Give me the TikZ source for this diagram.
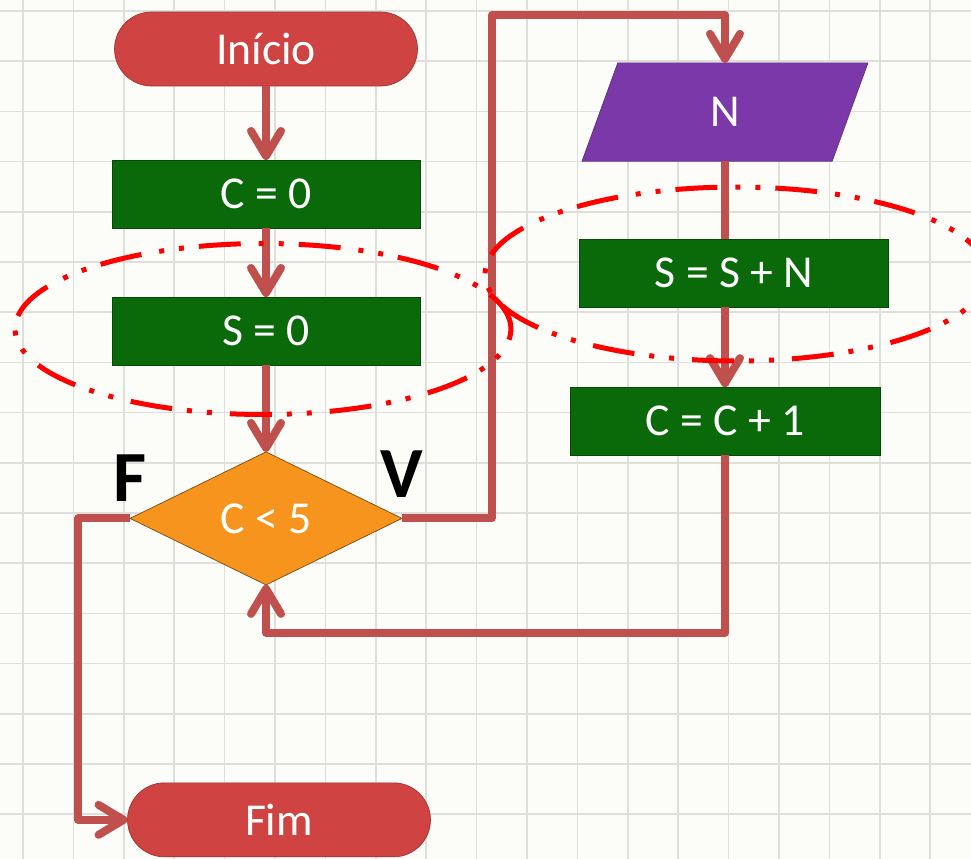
\documentclass[tikz,border=0pt]{standalone}
\usepackage{fontspec}
\setmainfont{Carlito}
\usetikzlibrary{arrows.meta,positioning,shapes.geometric}
\definecolor{linkred}{HTML}{C0504D}
\definecolor{termred}{HTML}{CF4442}
\definecolor{procgreen}{HTML}{0A6A0A}
\definecolor{entpurple}{HTML}{7A38A8}
\definecolor{decorange}{HTML}{F7941E}
\definecolor{elipred}{HTML}{FF0000}
\definecolor{fundo}{HTML}{FCFCF9}
\definecolor{gradecolor}{HTML}{DEDEDA}
\tikzset{
  blk/.style={rectangle,minimum width=6.16cm,minimum height=1.36cm,inner sep=0pt,outer sep=0pt,align=center,text=white,font=\fontsize{26}{30}\selectfont},
  termblk/.style={blk,rounded corners=0.74cm,minimum width=6.06cm,minimum height=1.48cm,fill=termred,draw=termred!75!black},
  procblk/.style={blk,fill=procgreen,draw=procgreen!70!black},
  entblk/.style={blk,trapezium,trapezium left angle=70,trapezium right angle=110,trapezium stretches body=true,minimum height=0pt,inner ysep=0.69cm,minimum width=5.72cm,fill=entpurple,draw=entpurple!80!black},
  decblk/.style={blk,diamond,minimum width=5.44cm,minimum height=2.66cm,fill=decorange,draw=decorange!50!black},
  arr/.style={-{Straight Barb[length=0.5cm,width=0.6cm,round]},line width=0.16cm,draw=linkred,line join=round},
  lnk/.style={line width=0.16cm,draw=linkred},
  grupo/.style={ellipse,draw=elipred,line width=0.1cm,dash pattern=on 0.84cm off 0.3cm on 0.1cm off 0.3cm on 0.1cm off 0.36cm,inner sep=0pt,outer sep=0pt},
  lbl/.style={font=\fontsize{41}{45}\selectfont\bfseries,inner sep=0pt},
  grade/.style={draw=gradecolor,line width=0.03cm}
}
\begin{document}
\begin{tikzpicture}[x=0.02cm,y=-0.02cm]
  \clip (0,0) rectangle (971,859);
  \fill[fundo] (0,0) rectangle (971,859);
  \foreach \i in {0,...,19}
    \draw[grade] ({23+50.4*\i},0) -- ++(0,859);
  \foreach \i in {0,...,17}
    \draw[grade] (0,{11+50.2*\i}) -- ++(971,0);

  % left column
  \node[termblk] (ini) at (266,49) {Início};
  \node[procblk, below=1.48cm of ini] (c0) {C = 0};
  \node[procblk, below=1.38cm of c0] (s0) {S = 0};
  \node[decblk, below=1.74cm of s0] (dec) {C < 5};
  \node[termblk, below=3.96cm of dec, xshift=0.26cm] (fim) {Fim};

  % right column
  \node[entblk] (inN) at (725,112) {N};
  \node[procblk, minimum width=6.18cm, below=1.56cm of inN, xshift=0.18cm] (ssn) {S = S + N};
  \node[procblk, minimum width=6.2cm, below=1.6cm of ssn, xshift=-0.18cm] (cc1) {C = C + 1};

  \node[lbl, above=0.34cm of dec.west] (f) {F};
  \node[lbl, above=0.42cm of dec.east] (v) {V};

  \draw[arr] (ini) -- (c0);
  \draw[arr] (c0) -- (s0);
  \draw[arr] (s0) -- (dec);
  \draw[arr] (dec.east) -- ++(90,0) |- ([yshift=0.96cm]inN.north) -- (inN.north);
  \draw[arr] (dec.west) -- ++(-52,0) |- (fim.west);
  \draw[lnk] (inN.south) -- (inN.south |- ssn.north);
  \draw[arr] (cc1.north |- ssn.south) -- (cc1.north);
  \draw[arr] (cc1.south) |- ([yshift=-0.96cm]dec.south) -- (dec.south);

  % groups
  \node[grupo, minimum width=9.92cm, minimum height=3.42cm] (g1) at (263,329) {};
  \node[grupo, minimum width=10.04cm, minimum height=3.48cm] (g2) at (736,274) {};
\end{tikzpicture}
\end{document}
